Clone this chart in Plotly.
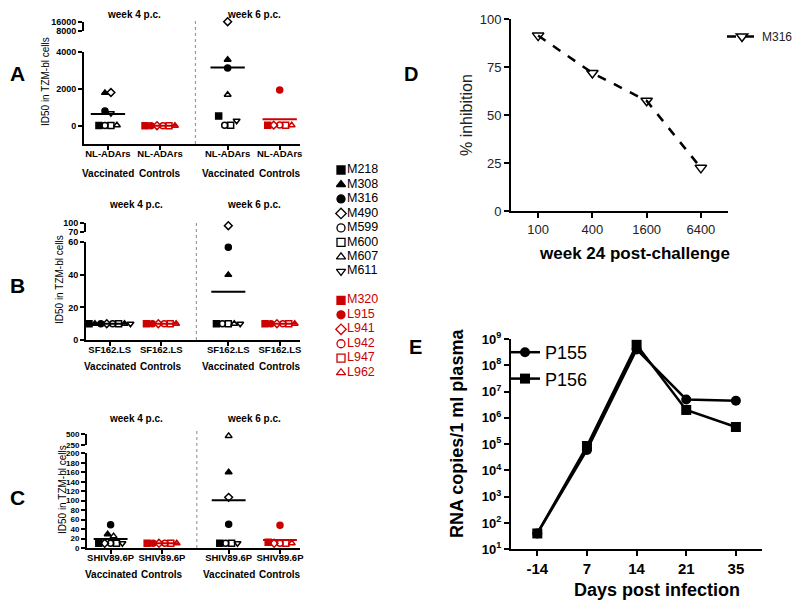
import numpy as np
import plotly.graph_objects as go

W, H = 800, 604
OFF = 8  # page body margin of the rendered html
FONT = "Arial, Liberation Sans, Helvetica, sans-serif"
BLACK = "#000000"
RED = "#cc0000"

# ---------------- data ----------------
vacc_animals = ["M218", "M308", "M316", "M490", "M599", "M600", "M607", "M611"]
ctrl_animals = ["M320", "L915", "L941", "L942", "L947", "L962"]
vacc_symbols = ["square", "triangle-up", "circle", "diamond-open", "circle-open",
                "square-open", "triangle-up-open", "triangle-down-open"]
ctrl_symbols = ["square", "circle", "diamond-open", "circle-open", "square-open",
                "triangle-up-open"]
group_labels = ["Vaccinated", "Controls", "Vaccinated", "Controls"]
week_labels = ["week 4 p.c.", "week 6 p.c."]

# Panel A: NL-ADArs (ID50)
a_vacc_wk4 = [30, 1800, 820, 1820, 30, 30, 40, 700]
a_ctrl_wk4 = [20, 20, 20, 20, 20, 20]
a_vacc_wk6 = [540, 3600, 3150, 16000, 50, 50, 1700, 290]
a_ctrl_wk6 = [40, 1950, 50, 60, 40, 40]

# Panel B: SF162.LS (ID50)
b_vacc_wk4 = [10, 10, 10, 10, 10, 10, 10, 10]
b_ctrl_wk4 = [10, 10, 10, 10, 10, 10]
b_vacc_wk6 = [10, 40, 57, 90, 10, 10, 10, 10]
b_ctrl_wk6 = [10, 10, 10, 10, 10, 10]

# Panel C: SHIV89.6P (ID50)
c_vacc_wk4 = [10, 29, 49, 10, 10, 10, 25, 10]
c_ctrl_wk4 = [10, 10, 10, 10, 10, 10]
c_vacc_wk6 = [10, 160, 50, 107, 10, 10, 450, 10]
c_ctrl_wk6 = [12, 48, 10, 10, 10, 10]

# Panel D: % inhibition, M316, week 24 post-challenge
d_dilution = ["100", "400", "1600", "6400"]
d_inhibition = [91.5, 72, 57.5, 22.5]

# Panel E: RNA copies / ml plasma
e_days = ["-14", "7", "14", "21", "35"]
e_p155 = [40, 6e4, 4e8, 5e6, 4.5e6]
e_p156 = [40, 8.5e4, 6e8, 2e6, 4.5e5]


# ---------------- helpers ----------------
def px(xp):
    return (xp - OFF) / W


def py(yp):
    return 1 - (yp - OFF) / H


def lk(axid):
    return axid[0] + "axis" + axid[1:]


def ann(text, x, y, size, bold=False, color=BLACK, angle=0, xref="paper"):
    f = dict(family=FONT, size=size, color=color)
    if bold:
        f["weight"] = "bold"
    return dict(text=text, xref=xref, yref="paper", x=x, y=y, xanchor="center",
                yanchor="middle", showarrow=False, textangle=angle, font=f)


def spread(values, ppu, step=0.115, tol=6.0):
    values = np.asarray(values, float)
    order = np.argsort(values, kind="stable")
    offs = np.zeros(len(values))
    clusters, cur = [], [order[0]]
    for i in order[1:]:
        if (values[i] - values[cur[-1]]) * ppu < tol:
            cur.append(i)
        else:
            clusters.append(cur)
            cur = [i]
    clusters.append(cur)
    for cl in clusters:
        cl = sorted(cl)
        n = len(cl)
        for k, i in enumerate(cl):
            offs[i] = (k - (n - 1) / 2) * step
    return offs


fig = go.Figure()
layout = {}
annotations = []
shapes = []

cat_pos = [0.0, 1.0, 2.3, 3.3]
x_range = [-0.46, 3.69]
divider_x = 1.68

panels = [
    dict(letter="A", letter_y=73, xa="x", ylo="y", yhi="y2", strain="NL-ADArs",
         data=[a_vacc_wk4, a_ctrl_wk4, a_vacc_wk6, a_ctrl_wk6],
         x_px=(84, 300), lo_px=(144, 52.3), lo_range=(-973, 4000), lo_ticks=[0, 2000, 4000],
         hi_px=(31, 21.7), hi_range=(8000, 16000), hi_ticks=[8000, 16000], ytick_size=9,
         week_y=14, group_y=173, div_top=18, title_x=46, title_y=82),
    dict(letter="B", letter_y=285, xa="x2", ylo="y3", yhi="y4", strain="SF162.LS",
         data=[b_vacc_wk4, b_ctrl_wk4, b_vacc_wk6, b_ctrl_wk6],
         x_px=(86, 300), lo_px=(340, 242.3), lo_range=(0, 60), lo_ticks=[0, 20, 40, 60],
         hi_px=(231.7, 222.7), hi_range=(70, 100), hi_ticks=[70, 100], ytick_size=9,
         week_y=204, group_y=366, div_top=220, title_x=59, title_y=280),
    dict(letter="C", letter_y=497, xa="x3", ylo="y5", yhi="y6", strain="SHIV89.6P",
         data=[c_vacc_wk4, c_ctrl_wk4, c_vacc_wk6, c_ctrl_wk6],
         x_px=(87, 300), lo_px=(548, 453.3), lo_range=(0, 200),
         lo_ticks=[0, 20, 40, 60, 80, 100, 120, 140, 160, 180, 200],
         hi_px=(444.7, 433.7), hi_range=(250, 500), hi_ticks=[250, 500], ytick_size=8,
         week_y=418, group_y=574, div_top=430, title_x=62, title_y=490),
]

for sp in panels:
    xa, ylo, yhi = sp["xa"], sp["ylo"], sp["yhi"]
    lo_ppu = (sp["lo_px"][0] - sp["lo_px"][1]) / (sp["lo_range"][1] - sp["lo_range"][0])
    for gi, vals in enumerate(sp["data"]):
        is_vacc = gi % 2 == 0
        animals = vacc_animals if is_vacc else ctrl_animals
        symbols = vacc_symbols if is_vacc else ctrl_symbols
        color = BLACK if is_vacc else RED
        vals = np.asarray(vals, float)
        xs = cat_pos[gi] + spread(vals, lo_ppu)
        hi_mask = vals > sp["lo_range"][1]
        for mask, ya in [(~hi_mask, ylo), (hi_mask, yhi)]:
            if mask.any():
                fig.add_trace(go.Scatter(
                    x=xs[mask], y=vals[mask], xaxis=xa, yaxis=ya, mode="markers",
                    marker=dict(symbol=np.array(symbols)[mask].tolist(), color=color, size=6,
                                line=dict(color=color, width=1.5)),
                    text=np.array(animals)[mask].tolist(), hoverinfo="text+y",
                    showlegend=False, cliponaxis=False))
        m = float(vals.mean())
        ya = ylo if m <= sp["lo_range"][1] else yhi
        fig.add_trace(go.Scatter(
            x=[cat_pos[gi] - 0.33, cat_pos[gi] + 0.33], y=[m, m], xaxis=xa, yaxis=ya,
            mode="lines", line=dict(color=color, width=2), showlegend=False,
            hoverinfo="skip", cliponaxis=False))

    common = dict(showline=True, linewidth=2, linecolor=BLACK, ticks="outside", ticklen=4,
                  tickwidth=2, tickcolor=BLACK, showgrid=False, zeroline=False, tickformat="d",
                  tickfont=dict(family=FONT, size=sp["ytick_size"], color=BLACK, weight="bold"))
    layout[lk(xa)] = dict(common, domain=[px(sp["x_px"][0]), px(sp["x_px"][1])], range=x_range,
                          anchor=ylo, tickvals=cat_pos, ticktext=[sp["strain"]] * 4,
                          ticklabelstandoff=-4,
                          tickfont=dict(family=FONT, size=9.5, color=BLACK, weight="bold"))
    layout[lk(ylo)] = dict(common, domain=[py(sp["lo_px"][0]), py(sp["lo_px"][1])],
                           range=list(sp["lo_range"]), anchor=xa, tickvals=sp["lo_ticks"])
    layout[lk(yhi)] = dict(common, domain=[py(sp["hi_px"][0]), py(sp["hi_px"][1])],
                           range=list(sp["hi_range"]), anchor=xa, tickvals=sp["hi_ticks"])

    shapes.append(dict(type="line", xref=xa, yref="paper", x0=divider_x, x1=divider_x,
                       y0=py(sp["lo_px"][0]), y1=py(sp["div_top"]),
                       line=dict(color="#8a8a8a", width=1, dash="dot")))
    for wi, wl in enumerate(week_labels):
        annotations.append(ann(wl, (cat_pos[2 * wi] + cat_pos[2 * wi + 1]) / 2, py(sp["week_y"]),
                               10, bold=True, xref=xa))
    for gi, gl in enumerate(group_labels):
        annotations.append(ann(gl, cat_pos[gi], py(sp["group_y"]), 10, bold=True, xref=xa))
    annotations.append(ann("ID50 in TZM-bl cells", px(sp["title_x"]), py(sp["title_y"]), 10, angle=-90))
    annotations.append(ann(sp["letter"], px(17), py(sp["letter_y"]), 21, bold=True))

# ---------------- animal key (middle column) ----------------
key_names = vacc_animals + ctrl_animals
key_symbols = vacc_symbols + ctrl_symbols
key_colors = [BLACK] * len(vacc_animals) + [RED] * len(ctrl_animals)
key_rows = list(range(len(vacc_animals))) + [len(vacc_animals) + 1 + j for j in range(len(ctrl_animals))]
fig.add_trace(go.Scatter(
    x=[0.5] * len(key_names), y=key_rows, xaxis="x6", yaxis="y9", mode="markers+text",
    text=key_names, textposition="middle right",
    textfont=dict(family=FONT, size=12.5, color=key_colors),
    marker=dict(symbol=key_symbols, color=key_colors, size=8, line=dict(color=key_colors, width=1.3)),
    showlegend=False, cliponaxis=False, hoverinfo="text"))
layout["xaxis6"] = dict(domain=[px(336), px(346)], range=[0, 1], visible=False, anchor="y9")
layout["yaxis9"] = dict(domain=[py(372.7), py(170)], range=[max(key_rows), 0], visible=False, anchor="x6")

# ---------------- Panel D ----------------
fig.add_trace(go.Scatter(
    x=d_dilution, y=d_inhibition, xaxis="x4", yaxis="y7", mode="lines+markers", name="M316",
    line=dict(color=BLACK, width=2.5, dash="dash"),
    marker=dict(symbol="triangle-down-open", size=10, color=BLACK, line=dict(width=1.5, color=BLACK)),
    legend="legend", cliponaxis=False))
axD = dict(showline=True, linewidth=2, linecolor=BLACK, ticks="outside", ticklen=5, tickwidth=2,
           tickcolor=BLACK, showgrid=False, zeroline=False,
           tickfont=dict(family=FONT, size=13, color="#222222"))
layout["xaxis4"] = dict(axD, domain=[px(511), px(728)], type="category", range=[-0.5, 3.5], anchor="y7")
layout["yaxis7"] = dict(axD, domain=[py(211), py(19.3)], range=[0, 100], anchor="x4",
                        tickvals=[0, 25, 50, 75, 100])
annotations += [
    ann("% inhibition", px(467), py(115), 16, color="#222222", angle=-90),
    ann("week 24 post-challenge", px(634), py(254), 17, bold=True),
    ann("D", px(411), py(74), 20, bold=True),
]

# ---------------- Panel E ----------------
fig.add_trace(go.Scatter(
    x=e_days, y=e_p155, xaxis="x5", yaxis="y8", mode="lines+markers", name="P155",
    line=dict(color=BLACK, width=2.5), marker=dict(symbol="circle", size=10, color=BLACK),
    legend="legend2", cliponaxis=False))
fig.add_trace(go.Scatter(
    x=e_days, y=e_p156, xaxis="x5", yaxis="y8", mode="lines+markers", name="P156",
    line=dict(color=BLACK, width=2.5), marker=dict(symbol="square", size=10, color=BLACK),
    legend="legend2", cliponaxis=False))
axE = dict(showline=True, linewidth=2, linecolor=BLACK, ticks="outside", ticklen=5, tickwidth=2,
           tickcolor=BLACK, showgrid=False, zeroline=False)
e_exps = list(range(1, 10))
layout["xaxis5"] = dict(axE, domain=[px(511), px(761.7)], type="category", range=[-0.53, 4.52],
                        anchor="y8", tickfont=dict(family=FONT, size=15, color=BLACK, weight="bold"))
layout["yaxis8"] = dict(axE, domain=[py(549.3), py(339)], type="log", range=[1, 9], anchor="x5",
                        tickvals=[10.0 ** k for k in e_exps],
                        ticktext=["10<sup>%d</sup>" % k for k in e_exps],
                        tickfont=dict(family=FONT, size=13, color=BLACK, weight="bold"))
annotations += [
    ann("RNA copies/1 ml plasma", px(457), py(434), 18, bold=True, angle=-90),
    ann("Days post infection", px(657), py(590), 18, bold=True),
    ann("E", px(415), py(347), 20, bold=True),
]

fig.update_layout(
    width=W, height=H, margin=dict(l=0, r=0, t=0, b=0, pad=0, autoexpand=False),
    paper_bgcolor="white", plot_bgcolor="white",
    font=dict(family=FONT, color=BLACK),
    annotations=annotations, shapes=shapes,
    legend=dict(x=px(722), y=py(22), xanchor="left", yanchor="top", bgcolor="rgba(0,0,0,0)",
                font=dict(family=FONT, size=12, color="#222222")),
    legend2=dict(x=px(505), y=py(334), xanchor="left", yanchor="top", bgcolor="rgba(0,0,0,0)",
                 font=dict(family=FONT, size=18, color=BLACK), tracegroupgap=0),
    **layout,
)

fig.write_html("out.html")
